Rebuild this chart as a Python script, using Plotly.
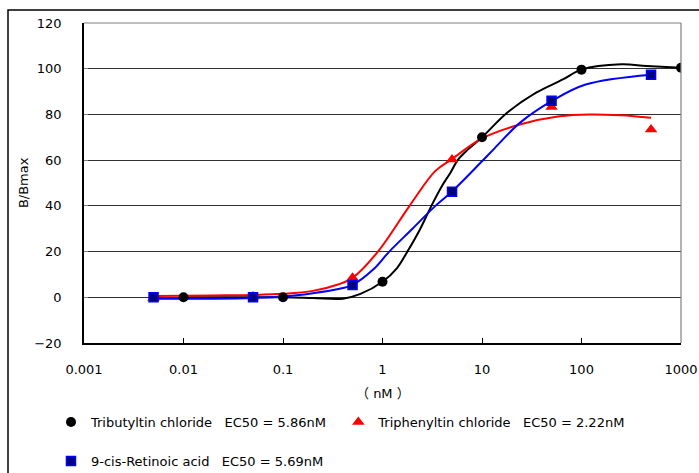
import plotly.graph_objects as go

# ---- measured points ----
tbt_x = [0.01, 0.1, 1, 10, 100, 1000]
tbt_y = [0, 0, 6.8, 70, 99.6, 100.4]
tpt_x = [0.005, 0.05, 0.5, 5, 50, 500]
tpt_y = [-0.3, 0.3, 8.5, 60.3, 83.2, 73.4]
ra_x = [0.005, 0.05, 0.5, 5, 50, 500]
ra_y = [0, 0, 5.4, 46.2, 86, 97.4]

# ---- fitted curves ----
tbt_fit_x = [0.01, 0.03, 0.1, 0.2, 0.4, 0.6, 1, 1.4, 1.78, 2.4, 3.1, 4, 4.8, 5.7, 7.2, 10, 18, 35, 65, 100, 250, 450, 1000]
tbt_fit_y = [0, 0, 0, -0.3, -0.6, 1.5, 6.8, 12.8, 20, 30, 40, 49, 54.4, 60, 64.6, 70, 80.8, 89.5, 95.3, 99.6, 101.9, 101.2, 100.4]
tpt_fit_x = [0.005, 0.02, 0.05, 0.1, 0.2, 0.35, 0.5, 0.9, 1.87, 3.4, 5, 10, 24, 60, 120, 250, 500]
tpt_fit_y = [0.6, 0.8, 1.0, 1.5, 2.8, 5.5, 8.5, 20, 40, 55.3, 60.5, 69.5, 75.6, 79.2, 80, 79.6, 78.5]
ra_fit_x = [0.005, 0.02, 0.05, 0.1, 0.2, 0.35, 0.5, 0.8, 1.17, 2.0, 3.4, 5, 10, 13, 24, 50, 110, 500]
ra_fit_y = [-0.6, -0.6, -0.3, 0.3, 1.8, 3.5, 5.4, 12, 20, 30, 40, 46.3, 59.5, 64.6, 76.3, 85.8, 93.1, 97.4]

x_tickvals = [0.001, 0.01, 0.1, 1, 10, 100, 1000]
x_ticktext = ["0.001", "0.01", "0.1", "1", "10", "100", "1000"]
y_tickvals = [-20, 0, 20, 40, 60, 80, 100, 120]

legend_names = [
    "Tributyltin chloride\u00a0\u00a0\u00a0EC50 = 5.86nM",
    "Triphenyltin chloride\u00a0\u00a0\u00a0EC50 = 2.22nM",
    "9-cis-Retinoic acid\u00a0\u00a0\u00a0EC50 = 5.69nM",
]

FONT = "DejaVu Sans, Noto Sans CJK JP, sans-serif"

fig = go.Figure()
# curves
fig.add_trace(go.Scatter(x=tbt_fit_x, y=tbt_fit_y, mode="lines", line=dict(color="black", width=2, shape="spline"),
                         showlegend=False, hoverinfo="skip"))
fig.add_trace(go.Scatter(x=tpt_fit_x, y=tpt_fit_y, mode="lines", line=dict(color="#ff0000", width=2, shape="spline"),
                         showlegend=False, hoverinfo="skip"))
fig.add_trace(go.Scatter(x=ra_fit_x, y=ra_fit_y, mode="lines", line=dict(color="#0000ff", width=2, shape="spline"),
                         showlegend=False, hoverinfo="skip"))
# markers
fig.add_trace(go.Scatter(x=tbt_x, y=tbt_y, mode="markers", name=legend_names[0],
                         marker=dict(symbol="circle", size=10, color="black"), legend="legend"))
fig.add_trace(go.Scatter(x=tpt_x, y=tpt_y, mode="markers", name=legend_names[1],
                         marker=dict(symbol="triangle-up", size=11, color="#ff0000"), legend="legend2"))
fig.add_trace(go.Scatter(x=ra_x, y=ra_y, mode="markers", name=legend_names[2],
                         marker=dict(symbol="square", size=9, color="#000080", line=dict(color="#0000ff", width=1.5)),
                         legend="legend3"))

leg_common = dict(xanchor="left", yanchor="middle", bgcolor="rgba(0,0,0,0)", borderwidth=0,
                  font=dict(family=FONT, size=13, color="black"), itemwidth=30)
fig.update_layout(
    width=699, height=473,
    margin=dict(l=84, r=18, t=23, b=130, autoexpand=False),
    paper_bgcolor="white", plot_bgcolor="white",
    font=dict(family=FONT, size=13, color="black"),
    legend=dict(x=-0.0553, y=-0.247, **leg_common),
    legend2=dict(x=0.426, y=-0.247, **leg_common),
    legend3=dict(x=-0.0553, y=-0.369, **leg_common),
    xaxis=dict(type="log", range=[-3, 3], tickvals=x_tickvals, ticktext=x_ticktext,
               showgrid=False, showline=True, linecolor="black", linewidth=1.5,
               ticks="inside", ticklen=5, tickcolor="black", ticklabelstandoff=14,
               ticklabeloverflow="allow",
               tickfont=dict(family=FONT, size=13, color="black"), zeroline=False),
    yaxis=dict(range=[-20, 120], tickvals=y_tickvals, showgrid=True, gridcolor="#303030", gridwidth=1,
               showline=True, linecolor="black", linewidth=1.5, zeroline=False,
               ticks="inside", ticklen=4, tickcolor="#808080", ticklabelstandoff=18,
               tickfont=dict(family=FONT, size=13, color="black")),
    shapes=[
        dict(type="line", xref="paper", yref="paper", x0=0, x1=1, y0=1, y1=1, line=dict(color="#808080", width=1.2)),
        dict(type="line", xref="paper", yref="paper", x0=1, x1=1, y0=0, y1=1, line=dict(color="#808080", width=1.2)),
        dict(type="rect", xref="paper", yref="paper", x0=-0.1273, x1=1.06, y0=-0.45, y1=1.0406,
             line=dict(color="black", width=1.5)),
    ],
    annotations=[
        dict(text="（ nM ）", xref="paper", yref="paper", x=0.5, y=-0.159, showarrow=False,
             xanchor="center", yanchor="middle", font=dict(family=FONT, size=13, color="black")),
        dict(text="B/Bmax", xref="paper", yref="paper", x=-0.102, y=0.5, showarrow=False, textangle=-90,
             xanchor="center", yanchor="middle", font=dict(family=FONT, size=13, color="black")),
    ],
)

fig.write_html("out.html",
               config={"displayModeBar": False},
               post_script="document.body.style.margin='0';document.body.style.overflow='hidden';")
